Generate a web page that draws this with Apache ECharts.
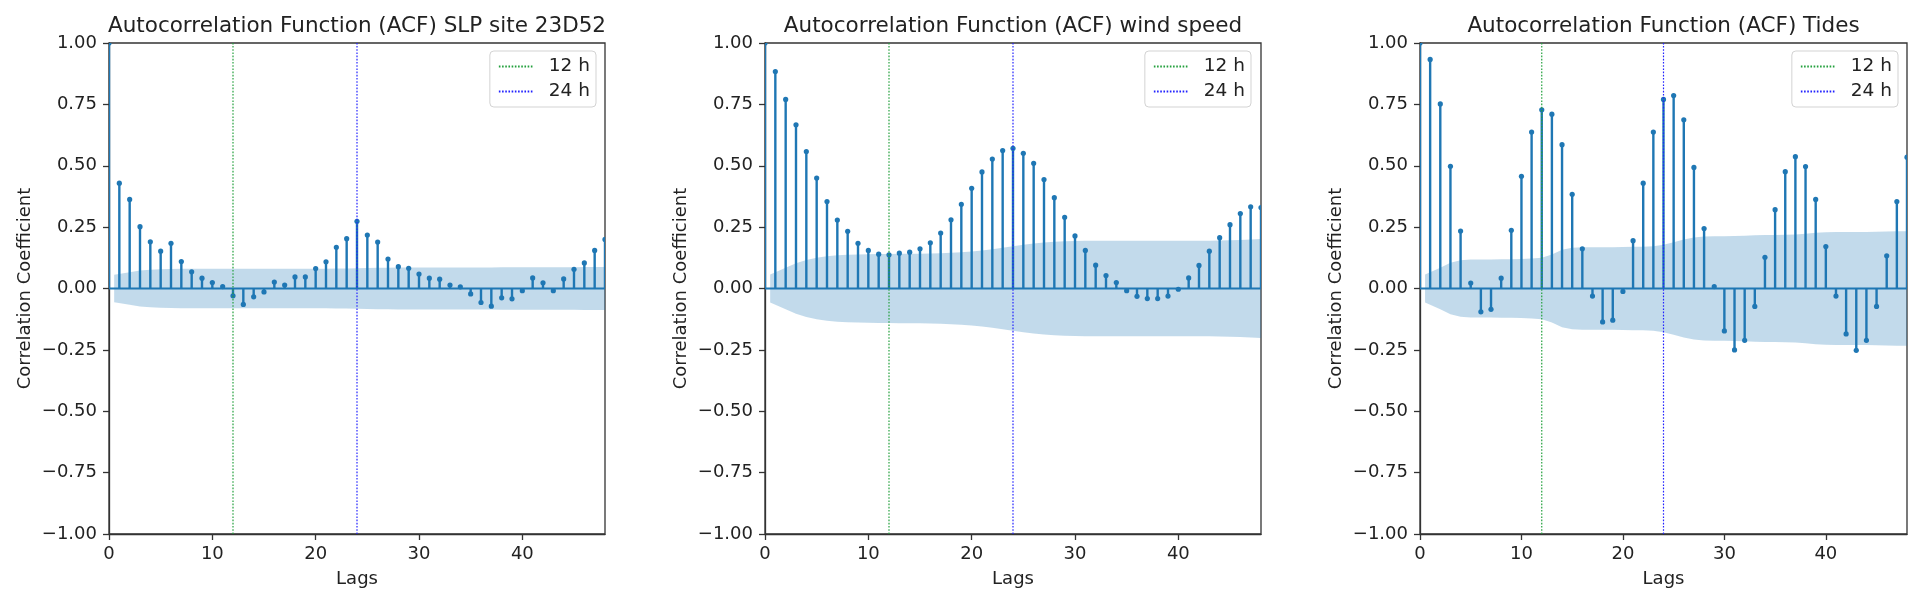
<!DOCTYPE html>
<html>
<head>
<meta charset="utf-8">
<script src="https://cdn.jsdelivr.net/npm/echarts@6/dist/echarts.min.js"></script>
<style>html,body{margin:0;padding:0;background:#fff}#c{width:1932px;height:604px}</style>
</head>
<body>
<div id="c"></div>
<script>
// ---- data ----
const titles = [
  'Autocorrelation Function (ACF) SLP site 23D52',
  'Autocorrelation Function (ACF) wind speed',
  'Autocorrelation Function (ACF) Tides'
];
const lineNames = ['12 h', '24 h'];
const lineLags = [12, 24];
const xTicks = [0, 10, 20, 30, 40];

// ACF values, lags 0..48
const acfSLP = [1.0, 0.429, 0.363, 0.252, 0.190, 0.152, 0.184, 0.110, 0.068, 0.042, 0.024, 0.008,
  -0.030, -0.065, -0.034, -0.014, 0.026, 0.014, 0.047, 0.047, 0.081, 0.109, 0.168, 0.203,
  0.274, 0.218, 0.189, 0.120, 0.089, 0.082, 0.059, 0.042, 0.038, 0.014, 0.007, -0.022,
  -0.057, -0.072, -0.038, -0.042, -0.009, 0.043, 0.023, -0.009, 0.039, 0.078, 0.104, 0.155, 0.200];
const acfWind = [1.0, 0.884, 0.770, 0.667, 0.558, 0.450, 0.354, 0.279, 0.233, 0.184, 0.155, 0.140,
  0.137, 0.144, 0.148, 0.162, 0.186, 0.226, 0.280, 0.343, 0.408, 0.475, 0.527, 0.562,
  0.571, 0.551, 0.510, 0.444, 0.370, 0.290, 0.214, 0.155, 0.095, 0.053, 0.024, -0.009,
  -0.032, -0.041, -0.041, -0.031, -0.003, 0.043, 0.094, 0.152, 0.207, 0.260, 0.305, 0.333, 0.330];
const acfTides = [1.0, 0.933, 0.752, 0.498, 0.234, 0.022, -0.095, -0.085, 0.042, 0.237, 0.457, 0.637,
  0.728, 0.710, 0.586, 0.384, 0.162, -0.031, -0.136, -0.129, -0.012, 0.195, 0.429, 0.637,
  0.770, 0.786, 0.687, 0.493, 0.244, 0.008, -0.173, -0.250, -0.211, -0.073, 0.127, 0.321,
  0.476, 0.537, 0.497, 0.363, 0.171, -0.031, -0.185, -0.252, -0.211, -0.073, 0.133, 0.354, 0.535];

// confidence band half-widths, lags 1..48
const bandSLP = [0.056, 0.066, 0.073, 0.076, 0.078, 0.079, 0.080, 0.080, 0.080, 0.080, 0.080, 0.080,
  0.080, 0.080, 0.080, 0.080, 0.080, 0.080, 0.080, 0.080, 0.080, 0.081, 0.081, 0.082,
  0.084, 0.085, 0.085, 0.086, 0.086, 0.086, 0.086, 0.086, 0.086, 0.086, 0.086, 0.086,
  0.086, 0.087, 0.087, 0.087, 0.087, 0.087, 0.087, 0.087, 0.087, 0.088, 0.088, 0.088];
const bandWind = [0.057, 0.085, 0.103, 0.116, 0.125, 0.131, 0.135, 0.137, 0.139, 0.140, 0.141, 0.141,
  0.142, 0.142, 0.142, 0.143, 0.144, 0.146, 0.148, 0.151, 0.155, 0.160, 0.166, 0.172,
  0.178, 0.183, 0.187, 0.190, 0.192, 0.193, 0.194, 0.194, 0.194, 0.194, 0.194, 0.194,
  0.194, 0.194, 0.194, 0.194, 0.194, 0.195, 0.195, 0.196, 0.197, 0.198, 0.200, 0.202];
const bandTides = [0.057, 0.085, 0.105, 0.115, 0.118, 0.118, 0.118, 0.119, 0.119, 0.120, 0.122, 0.125,
  0.138, 0.158, 0.166, 0.168, 0.168, 0.168, 0.168, 0.169, 0.170, 0.170, 0.172, 0.178,
  0.188, 0.200, 0.208, 0.212, 0.213, 0.213, 0.214, 0.215, 0.217, 0.218, 0.218, 0.219,
  0.220, 0.223, 0.227, 0.229, 0.230, 0.230, 0.230, 0.230, 0.231, 0.232, 0.233, 0.234];

const acfs = [acfSLP, acfWind, acfTides];
const bands = [bandSLP, bandWind, bandTides];

// ---- layout / style ----
const FONT = 'DejaVu Sans';
const C0 = '#1f77b4';
const lineColors = ['#22a03c', '#2222ff'];
const grids = [
  {left: 109, top: 43, width: 496, height: 491},
  {left: 765, top: 43, width: 496, height: 491},
  {left: 1420, top: 43, width: 487, height: 491}
];
const legendRight = [1336, 681, 34];

function fmtY(v) {
  const s = Math.abs(v).toFixed(2);
  return (v < 0 ? '\u2212' : '') + s;
}

function stemRender(params, api) {
  const x = api.value(0), y = api.value(1);
  const p0 = api.coord([x, 0]), p1 = api.coord([x, y]);
  return {type: 'group', children: [
    {type: 'line', shape: {x1: p0[0], y1: p0[1], x2: p1[0], y2: p1[1]}, style: {stroke: C0, lineWidth: 2.4}},
    {type: 'circle', shape: {cx: p1[0], cy: p1[1], r: 2.6}, style: {fill: C0}}
  ]};
}

function bandRender(band) {
  return function (params, api) {
    const n = band.length;
    const xs = band.map((b, i) => i === 0 ? 0.5 : (i === n - 1 ? n + 0.5 : i + 1));
    const top = xs.map((x, i) => api.coord([x, band[i]]));
    const bot = xs.map((x, i) => api.coord([x, -band[i]])).reverse();
    return {type: 'polygon', shape: {points: top.concat(bot)}, style: {fill: 'rgba(31,119,180,0.27)'}};
  };
}

const axisCol = '#333';
const option = {
  animation: false,
  backgroundColor: '#fff',
  title: titles.map((t, i) => ({
    text: t,
    left: grids[i].left + grids[i].width / 2,
    top: 15,
    padding: 0,
    textAlign: 'center',
    textStyle: {fontFamily: FONT, fontSize: 21.5, fontWeight: 'normal', color: '#222'}
  })),
  legend: grids.map((g, i) => ({
    orient: 'vertical',
    right: legendRight[i],
    top: 51,
    data: lineNames,
    selectedMode: false,
    itemWidth: 35,
    itemHeight: 14,
    itemGap: 6,
    padding: [6, 6, 6, 8],
    borderColor: '#d3d3d3',
    borderWidth: 1,
    borderRadius: 4,
    backgroundColor: 'rgba(255,255,255,0.8)',
    itemStyle: {opacity: 0},
    textStyle: {fontFamily: FONT, fontSize: 18.5, color: '#222', padding: [0, 0, 0, 10]}
  })),
  grid: grids.map(g => Object.assign({show: true, borderColor: axisCol, borderWidth: 1.3, backgroundColor: 'transparent'}, g)),
  xAxis: grids.map((g, i) => ({
    type: 'value', gridIndex: i, min: 0, max: 48, interval: 10,
    name: 'Lags', nameLocation: 'middle', nameGap: 36,
    nameTextStyle: {fontFamily: FONT, fontSize: 18, color: '#222'},
    axisLine: {show: true, onZero: false, lineStyle: {color: axisCol, width: 1.3}},
    axisTick: {show: true, length: 6, lineStyle: {color: axisCol, width: 1.3}, customValues: xTicks},
    axisLabel: {fontFamily: FONT, fontSize: 18, color: '#222', margin: 11, customValues: xTicks},
    splitLine: {show: false}
  })),
  yAxis: grids.map((g, i) => ({
    type: 'value', gridIndex: i, min: -1, max: 1, interval: 0.25,
    name: 'Correlation Coefficient', nameLocation: 'middle', nameGap: 75,
    nameTextStyle: {fontFamily: FONT, fontSize: 18, color: '#222'},
    axisLine: {show: true, lineStyle: {color: axisCol, width: 1.3}},
    axisTick: {show: true, length: 6, lineStyle: {color: axisCol, width: 1.3}},
    axisLabel: {fontFamily: FONT, fontSize: 18, color: '#222', margin: 12, formatter: fmtY},
    splitLine: {show: false}
  })),
  series: []
};

grids.forEach((g, i) => {
  option.series.push({
    type: 'custom', xAxisIndex: i, yAxisIndex: i, clip: true, silent: true, z: 1,
    renderItem: bandRender(bands[i]), data: [[0, 0]]
  });
  option.series.push({
    type: 'line', xAxisIndex: i, yAxisIndex: i, silent: true, symbol: 'none', z: 2,
    lineStyle: {color: C0, width: 2.2}, data: [[0, 0], [48, 0]]
  });
  option.series.push({
    type: 'custom', xAxisIndex: i, yAxisIndex: i, clip: true, silent: true, z: 3,
    renderItem: stemRender, data: acfs[i].map((v, k) => [k, v])
  });
  lineNames.forEach((nm, j) => {
    option.series.push({
      name: nm, type: 'line', xAxisIndex: i, yAxisIndex: i, silent: true, symbol: 'none', z: 4,
      lineStyle: {color: lineColors[j], width: 1.2, type: [1.6, 1.6]},
      itemStyle: {color: lineColors[j]},
      data: [[lineLags[j], -1], [lineLags[j], 1]]
    });
  });
});

const chart = echarts.init(document.getElementById('c'), null, {renderer: 'canvas'});
chart.setOption(option);
</script>
</body>
</html>
